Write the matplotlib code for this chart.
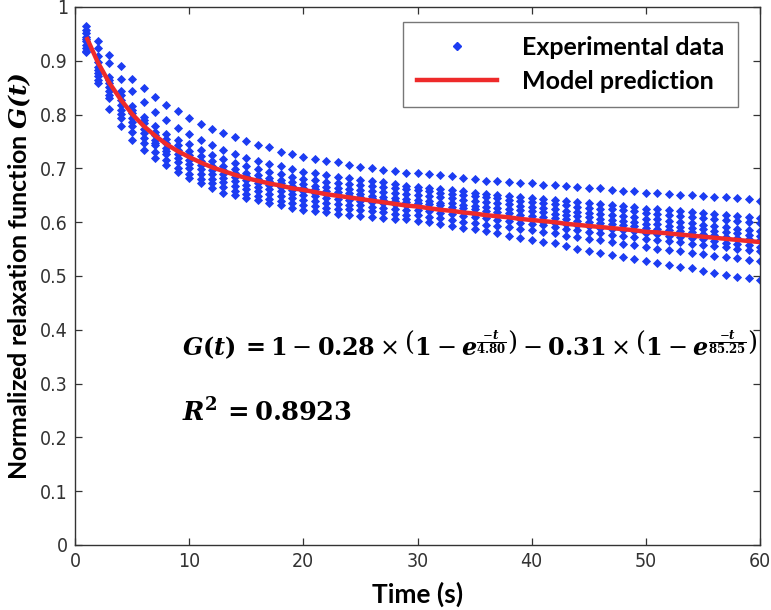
import matplotlib
matplotlib.use("Agg")
import matplotlib.pyplot as plt
from matplotlib.lines import Line2D

# ---- data ----
time_s = list(range(1, 61))

exp_c0 = [0.965, 0.937, 0.911, 0.890, 0.867, 0.850, 0.833, 0.818, 0.807, 0.794,
          0.782, 0.773, 0.765, 0.759, 0.751, 0.743, 0.739, 0.731, 0.727, 0.721,
          0.718, 0.714, 0.711, 0.706, 0.703, 0.700, 0.697, 0.696, 0.692, 0.692,
          0.690, 0.688, 0.685, 0.682, 0.680, 0.677, 0.676, 0.675, 0.673, 0.673,
          0.670, 0.670, 0.668, 0.666, 0.663, 0.663, 0.660, 0.657, 0.657, 0.655,
          0.655, 0.652, 0.651, 0.651, 0.649, 0.647, 0.646, 0.645, 0.643, 0.640]
exp_c1 = [0.958, 0.923, 0.895, 0.867, 0.844, 0.824, 0.805, 0.789, 0.775, 0.763,
          0.752, 0.743, 0.735, 0.727, 0.720, 0.714, 0.708, 0.704, 0.698, 0.694,
          0.691, 0.687, 0.684, 0.682, 0.679, 0.676, 0.674, 0.671, 0.668, 0.666,
          0.664, 0.661, 0.659, 0.657, 0.655, 0.652, 0.651, 0.649, 0.646, 0.645,
          0.643, 0.641, 0.639, 0.637, 0.635, 0.633, 0.631, 0.630, 0.628, 0.625,
          0.624, 0.622, 0.621, 0.619, 0.617, 0.615, 0.614, 0.612, 0.610, 0.608]
exp_c2 = [0.951, 0.908, 0.870, 0.843, 0.815, 0.796, 0.778, 0.764, 0.753, 0.745,
          0.735, 0.725, 0.718, 0.710, 0.704, 0.698, 0.693, 0.689, 0.684, 0.680,
          0.678, 0.675, 0.673, 0.671, 0.669, 0.667, 0.665, 0.663, 0.661, 0.660,
          0.658, 0.655, 0.653, 0.650, 0.648, 0.646, 0.644, 0.642, 0.639, 0.637,
          0.635, 0.634, 0.631, 0.629, 0.627, 0.625, 0.624, 0.622, 0.620, 0.617,
          0.616, 0.614, 0.612, 0.610, 0.608, 0.606, 0.604, 0.602, 0.600, 0.598]
exp_c3 = [0.945, 0.898, 0.864, 0.836, 0.809, 0.790, 0.768, 0.754, 0.743, 0.733,
          0.723, 0.713, 0.705, 0.698, 0.692, 0.687, 0.683, 0.679, 0.674, 0.671,
          0.668, 0.665, 0.663, 0.662, 0.660, 0.658, 0.656, 0.654, 0.652, 0.651,
          0.649, 0.646, 0.644, 0.641, 0.639, 0.637, 0.635, 0.633, 0.630, 0.628,
          0.626, 0.624, 0.621, 0.619, 0.617, 0.615, 0.613, 0.611, 0.609, 0.606,
          0.605, 0.602, 0.600, 0.598, 0.595, 0.593, 0.591, 0.588, 0.586, 0.584]
exp_c4 = [0.940, 0.889, 0.858, 0.827, 0.802, 0.784, 0.762, 0.747, 0.735, 0.724,
          0.714, 0.704, 0.697, 0.691, 0.685, 0.680, 0.676, 0.672, 0.667, 0.664,
          0.661, 0.658, 0.656, 0.654, 0.652, 0.649, 0.647, 0.645, 0.643, 0.641,
          0.639, 0.636, 0.635, 0.632, 0.630, 0.628, 0.626, 0.624, 0.622, 0.620,
          0.618, 0.616, 0.613, 0.611, 0.609, 0.606, 0.604, 0.602, 0.600, 0.597,
          0.596, 0.593, 0.591, 0.589, 0.587, 0.584, 0.582, 0.580, 0.577, 0.575]
exp_c5 = [0.936, 0.883, 0.852, 0.818, 0.793, 0.774, 0.753, 0.738, 0.726, 0.716,
          0.706, 0.697, 0.690, 0.684, 0.678, 0.673, 0.669, 0.665, 0.660, 0.657,
          0.655, 0.652, 0.650, 0.648, 0.646, 0.644, 0.642, 0.640, 0.638, 0.636,
          0.634, 0.631, 0.629, 0.626, 0.624, 0.621, 0.619, 0.617, 0.614, 0.612,
          0.610, 0.608, 0.605, 0.603, 0.601, 0.599, 0.597, 0.595, 0.593, 0.590,
          0.588, 0.586, 0.583, 0.581, 0.578, 0.576, 0.573, 0.571, 0.568, 0.566]
exp_c6 = [0.929, 0.877, 0.844, 0.809, 0.787, 0.765, 0.748, 0.732, 0.719, 0.708,
          0.698, 0.689, 0.682, 0.676, 0.670, 0.666, 0.661, 0.658, 0.653, 0.650,
          0.648, 0.645, 0.643, 0.641, 0.639, 0.637, 0.635, 0.633, 0.632, 0.630,
          0.627, 0.624, 0.622, 0.619, 0.616, 0.613, 0.611, 0.609, 0.606, 0.604,
          0.601, 0.599, 0.596, 0.594, 0.592, 0.590, 0.587, 0.585, 0.583, 0.580,
          0.578, 0.575, 0.573, 0.570, 0.568, 0.565, 0.562, 0.560, 0.557, 0.554]
exp_c7 = [0.923, 0.871, 0.837, 0.801, 0.778, 0.757, 0.743, 0.726, 0.712, 0.700,
          0.690, 0.681, 0.674, 0.667, 0.661, 0.657, 0.652, 0.649, 0.644, 0.641,
          0.639, 0.636, 0.634, 0.632, 0.631, 0.629, 0.627, 0.625, 0.623, 0.622,
          0.620, 0.617, 0.615, 0.612, 0.610, 0.607, 0.604, 0.602, 0.599, 0.597,
          0.594, 0.591, 0.587, 0.585, 0.582, 0.580, 0.577, 0.574, 0.572, 0.568,
          0.567, 0.565, 0.563, 0.560, 0.558, 0.556, 0.554, 0.551, 0.549, 0.547]
exp_c8 = [0.919, 0.865, 0.830, 0.793, 0.768, 0.748, 0.731, 0.715, 0.701, 0.690,
          0.680, 0.672, 0.665, 0.658, 0.653, 0.648, 0.643, 0.640, 0.635, 0.632,
          0.630, 0.627, 0.625, 0.624, 0.622, 0.620, 0.618, 0.616, 0.614, 0.613,
          0.610, 0.607, 0.604, 0.601, 0.599, 0.595, 0.593, 0.591, 0.587, 0.585,
          0.582, 0.579, 0.575, 0.572, 0.569, 0.566, 0.563, 0.560, 0.557, 0.553,
          0.551, 0.549, 0.546, 0.543, 0.541, 0.538, 0.536, 0.533, 0.530, 0.528]
exp_c9 = [0.916, 0.858, 0.811, 0.779, 0.753, 0.734, 0.720, 0.706, 0.694, 0.683,
          0.672, 0.663, 0.655, 0.650, 0.645, 0.641, 0.636, 0.631, 0.627, 0.623,
          0.620, 0.618, 0.615, 0.613, 0.611, 0.609, 0.607, 0.606, 0.605, 0.603,
          0.600, 0.597, 0.593, 0.590, 0.587, 0.584, 0.579, 0.574, 0.570, 0.567,
          0.564, 0.561, 0.556, 0.551, 0.547, 0.543, 0.539, 0.535, 0.531, 0.528,
          0.525, 0.521, 0.517, 0.514, 0.510, 0.506, 0.502, 0.499, 0.496, 0.493]

model_pred = [0.944, 0.897, 0.859, 0.828, 0.801, 0.779, 0.761, 0.745, 0.732, 0.721,
              0.711, 0.702, 0.695, 0.688, 0.682, 0.677, 0.672, 0.668, 0.663, 0.660,
              0.656, 0.652, 0.649, 0.646, 0.643, 0.640, 0.637, 0.634, 0.631, 0.629,
              0.626, 0.623, 0.621, 0.618, 0.616, 0.613, 0.611, 0.609, 0.606, 0.604,
              0.602, 0.600, 0.597, 0.595, 0.593, 0.591, 0.589, 0.587, 0.585, 0.582,
              0.581, 0.579, 0.577, 0.575, 0.573, 0.571, 0.569, 0.567, 0.565, 0.563]

experimental = [exp_c0, exp_c1, exp_c2, exp_c3, exp_c4,
                exp_c5, exp_c6, exp_c7, exp_c8, exp_c9]

x_ticks = [0, 10, 20, 30, 40, 50, 60]
y_ticks = [0, 0.1, 0.2, 0.3, 0.4, 0.5, 0.6, 0.7, 0.8, 0.9, 1.0]
y_tick_labels = ['0', '0.1', '0.2', '0.3', '0.4', '0.5', '0.6', '0.7', '0.8', '0.9', '1']

# ---- styling ----
plt.rcParams['mathtext.fontset'] = 'custom'
plt.rcParams['mathtext.rm'] = 'DejaVu Serif'
plt.rcParams['mathtext.bf'] = 'DejaVu Serif:bold'
plt.rcParams['mathtext.it'] = 'DejaVu Serif:italic:bold'
plt.rcParams['mathtext.bfit'] = 'DejaVu Serif:italic:bold'

BLUE = '#1c3cf2'
RED = '#ee2a2a'
label_font = ['Lato', 'DejaVu Sans']

fig = plt.figure(figsize=(7.71, 6.10), dpi=100)
ax = fig.add_axes([0.0973, 0.1066, 0.8885, 0.882])

for series in experimental:
    ax.plot(time_s, series, linestyle='none', marker='D', markersize=4.0,
            color=BLUE, markeredgewidth=0.6)
ax.plot(time_s, model_pred, color=RED, linewidth=3.2, solid_capstyle='butt')

ax.set_xlim(0, 60)
ax.set_ylim(0, 1)
ax.set_xticks(x_ticks)
ax.set_yticks(y_ticks)
ax.set_yticklabels(y_tick_labels)
ax.tick_params(direction='in', top=True, right=True, length=5, width=0.9,
               color='#333333', labelsize=14, labelcolor='#333333', pad=5)
for lab in ax.get_xticklabels() + ax.get_yticklabels():
    lab.set_family('DejaVu Sans')
    lab.set_stretch('condensed')
    lab.set_fontweight('light')
for sp in ax.spines.values():
    sp.set_color('#333333')
    sp.set_linewidth(1.0)

ax.set_xlabel('Time (s)', family=label_font, fontweight='bold', fontsize=19, labelpad=8)
ax.set_ylabel(r'Normalized relaxation function $\mathbfit{G(t)}$', family=label_font,
              fontweight='bold', fontsize=18, labelpad=5)

eq = (r'$\mathbfit{G}\mathbf{(}\mathbfit{t}\mathbf{)}\,\mathbf{=1}-\mathbf{0.28}\times'
      r'\left(\mathbf{1}-\mathbfit{e}^{\frac{-\mathbfit{t}}{\mathbf{4.80}}}\right)'
      r'-\mathbf{0.31}\times\left(\mathbf{1}-\mathbfit{e}^{\frac{-\mathbfit{t}}{\mathbf{85.25}}}\right)$')
ax.text(9.4, 0.372, eq, fontsize=17.2, va='center', ha='left')
ax.text(9.4, 0.245, r'$\mathbfit{R}^{\mathbf{2}}\,\mathbf{=0.8923}$', fontsize=18.5,
        va='center', ha='left')

handles = [Line2D([], [], linestyle='none', marker='D', markersize=3.6, color=BLUE),
           Line2D([], [], color=RED, linewidth=3.2)]
leg = ax.legend(handles, ['Experimental data', 'Model prediction'],
                loc='upper right', bbox_to_anchor=(0.968, 0.972), borderaxespad=0,
                fancybox=False, framealpha=1, edgecolor='#777777', handlelength=3.2,
                borderpad=0.55, labelspacing=0.45, handletextpad=1.0,
                prop={'family': label_font, 'weight': 'bold', 'size': 18})
leg.get_frame().set_linewidth(1.0)

fig.savefig('out.png', dpi=100)
